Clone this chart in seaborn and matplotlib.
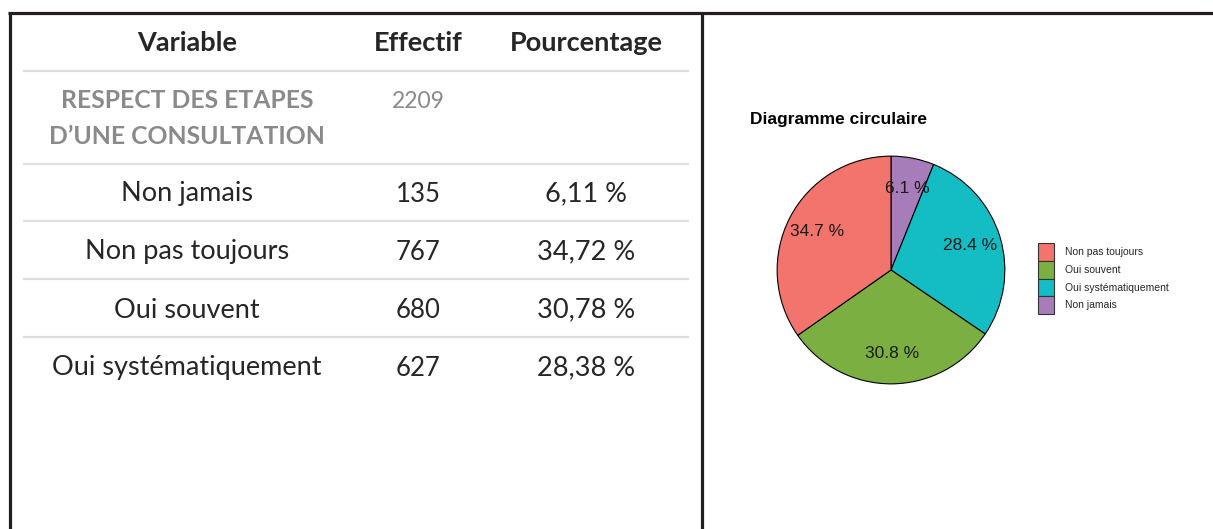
import matplotlib
matplotlib.use("Agg")
import matplotlib.pyplot as plt
from matplotlib.patches import Patch
import seaborn as sns

# table data
categories = ["Non jamais", "Non pas toujours", "Oui souvent", "Oui systématiquement"]
effectifs = [135, 767, 680, 627]
pourcentages = [6.11, 34.72, 30.78, 28.38]
total = 2209
group_label = ["RESPECT DES ETAPES", "D\u2019UNE CONSULTATION"]
headers = ["Variable", "Effectif", "Pourcentage"]

# pie data (clockwise from 12 o'clock) and legend order
pie_order = ["Non jamais", "Oui systématiquement", "Oui souvent", "Non pas toujours"]
legend_order = ["Non pas toujours", "Oui souvent", "Oui systématiquement", "Non jamais"]
colors = {
    "Non pas toujours": "#F2746D",
    "Oui souvent": "#7BAF41",
    "Oui systématiquement": "#14BDC4",
    "Non jamais": "#A77DB9",
}

sns.set_theme(style="white")
plt.rcParams["font.family"] = ["Lato", "DejaVu Sans"]

W, H = 1213, 529
fig = plt.figure(figsize=(W / 100, H / 100), dpi=100)

# background axes in pixel coordinates for the table and frame
bg = fig.add_axes([0, 0, 1, 1])
bg.set_xlim(0, W)
bg.set_ylim(H, 0)
bg.axis("off")

# black frame
bg.plot([8, W], [12.5, 12.5], color="#231f20", lw=2.3, solid_capstyle="butt")
bg.plot([9.5, 9.5], [11.5, H], color="#231f20", lw=2.3, solid_capstyle="butt")
bg.plot([701.5, 701.5], [11.5, H], color="#231f20", lw=2.3, solid_capstyle="butt")

col_x = [187, 418, 586]
txt = "#262626"

for x, h in zip(col_x, headers):
    bg.text(x, 43, h, ha="center", va="center", fontsize=19.5, fontweight="bold", color=txt)

line_y = [71, 164, 221, 279, 337]
for y in line_y:
    bg.plot([24, 688], [y, y], color="#dedede", lw=1.6)

gray = "#8a8a8a"
bg.text(col_x[0], 101, group_label[0], ha="center", va="center", fontsize=17.8,
        fontweight="bold", color=gray)
bg.text(col_x[0], 136, group_label[1], ha="center", va="center", fontsize=17.8,
        fontweight="bold", color=gray)
bg.text(col_x[1], 101, str(total), ha="center", va="center", fontsize=16.5, color=gray)

for i, (cat, n, p) in enumerate(zip(categories, effectifs, pourcentages)):
    y = 194 + 58 * i
    bg.text(col_x[0], y, cat, ha="center", va="center", fontsize=19.5, color=txt)
    bg.text(col_x[1], y, str(n), ha="center", va="center", fontsize=18.5, color=txt)
    bg.text(col_x[2], y, f"{p:.2f} %".replace(".", ","), ha="center", va="center",
            fontsize=19.5, color=txt)

# pie chart
cx, cy, r = 891, 270, 115
pax = fig.add_axes([(cx - r) / W, (H - cy - r) / H, 2 * r / W, 2 * r / H])
pie_vals = [effectifs[categories.index(c)] for c in pie_order]
pie_pct = [pourcentages[categories.index(c)] for c in pie_order]
wedges, texts = pax.pie(
    pie_vals,
    colors=[colors[c] for c in pie_order],
    startangle=90,
    counterclock=False,
    labels=[f"{p:.1f} %" for p in pie_pct],
    labeldistance=0.73,
    wedgeprops=dict(edgecolor="black", linewidth=0.8),
    textprops=dict(fontsize=12.5, color="#1a1a1a", family="Liberation Sans",
                   ha="center", va="center"),
)
for t in texts:
    t.set_ha("center")
    t.set_va("center")
pax.set_xlim(-1.01, 1.01)
pax.set_ylim(-1.01, 1.01)
pax.set_aspect("equal")
pax.axis("off")

fig.text(750 / W, 1 - 120 / H, "Diagramme circulaire", ha="left", va="center",
         fontsize=12.5, fontweight="bold", family="Liberation Sans", color="black")

handles = [Patch(facecolor=colors[c], edgecolor="#333333", linewidth=0.8) for c in legend_order]
leg = fig.legend(
    handles, legend_order,
    loc="upper left",
    bbox_to_anchor=(1038 / W, 1 - 243 / H),
    frameon=False,
    borderpad=0,
    borderaxespad=0,
    labelspacing=0.0,
    handlelength=1.5,
    handleheight=2.25,
    handletextpad=1.1,
    prop=dict(family="Liberation Sans", size=7.5),
)

fig.savefig("out.png", dpi=100, facecolor="white")
